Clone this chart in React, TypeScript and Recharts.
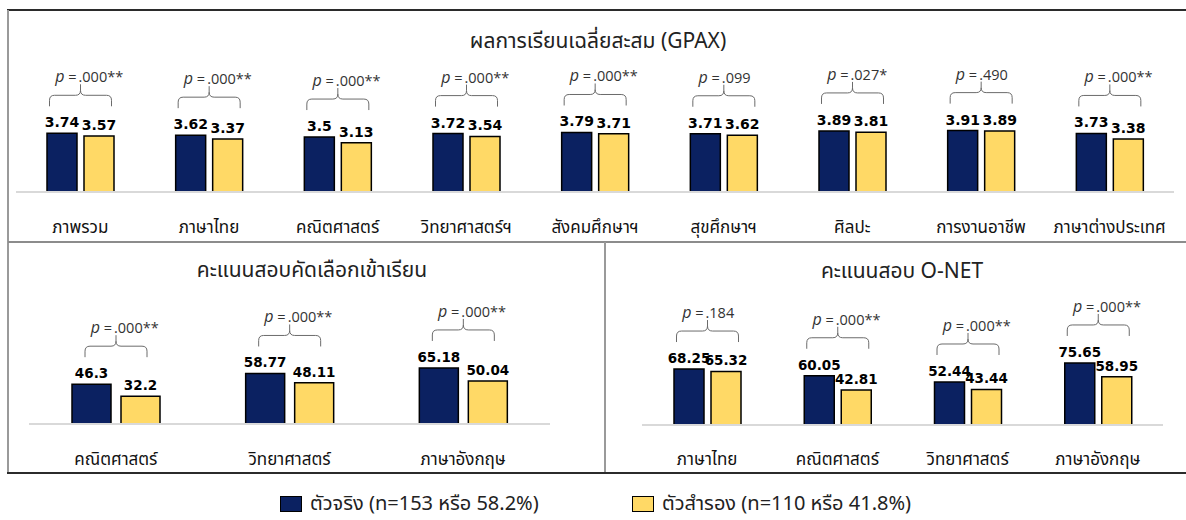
import React from "react";
import { BarChart, Bar, XAxis, YAxis, LabelList } from "recharts";

// GPAX (top panel)
const gpaxCats = ["ภาพรวม", "ภาษาไทย", "คณิตศาสตร์", "วิทยาศาสตร์ฯ", "สังคมศึกษาฯ", "สุขศึกษาฯ", "ศิลปะ", "การงานอาชีพ", "ภาษาต่างประเทศ"];
const gpaxMain = [3.74, 3.62, 3.5, 3.72, 3.79, 3.71, 3.89, 3.91, 3.73];
const gpaxAlt = [3.57, 3.37, 3.13, 3.54, 3.71, 3.62, 3.81, 3.89, 3.38];
const gpaxP = [".000**", ".000**", ".000**", ".000**", ".000**", ".099", ".027*", ".490", ".000**"];

// entrance exam (bottom left)
const entryCats = ["คณิตศาสตร์", "วิทยาศาสตร์", "ภาษาอังกฤษ"];
const entryMain = [46.3, 58.77, 65.18];
const entryAlt = [32.2, 48.11, 50.04];
const entryP = [".000**", ".000**", ".000**"];

// O-NET (bottom right)
const onetCats = ["ภาษาไทย", "คณิตศาสตร์", "วิทยาศาสตร์", "ภาษาอังกฤษ"];
const onetMain = [68.25, 60.05, 52.44, 75.65];
const onetAlt = [65.32, 42.81, 43.44, 58.95];
const onetP = [".184", ".000**", ".000**", ".000**"];

const legendItems = ["ตัวจริง (n=153 หรือ 58.2%)", "ตัวสำรอง (n=110 หรือ 41.8%)"];

const NAVY = "#0b2161";
const GOLD = "#ffd966";
const THAI = "'Noto Sans Thai', 'Noto Sans', 'DejaVu Sans', sans-serif";
const NUM = "'DejaVu Sans', sans-serif";

const box = (vb: any, p: any) => ({
  x: vb?.x ?? p.x,
  y: vb?.y ?? p.y,
  w: vb?.width ?? p.width,
  h: vb?.height ?? p.height,
});

interface PanelProps {
  cats: string[];
  main: number[];
  alt: number[];
  pvals: string[];
  width: number;
  height: number;
  margin: { top: number; right: number; bottom: number; left: number };
  yMax: number;
  barSize: number;
  barGap: number;
  labelSize: number;
  tickDy: number;
  tickSize: number;
}

function Panel({ cats, main, alt, pvals, width, height, margin, yMax, barSize, barGap, labelSize, tickDy, tickSize }: PanelProps) {
  const data = cats.map((c, i) => ({ cat: c, main: main[i], alt: alt[i], p: pvals[i] }));

  const valueLabel = (props: any) => {
    const { x, y, w } = box(props.viewBox, props);
    return (
      <text x={x + w / 2} y={y - 6} textAnchor="middle" fontFamily={NUM} fontWeight="bold" fontSize={labelSize} fill="#000">
        {String(props.value)}
      </text>
    );
  };

  // bracket + p value, placed from the navy bar geometry
  const bracket = (props: any) => {
    const { x, y, w, h } = box(props.viewBox, props);
    const d = data[props.index];
    if (!d) return null;
    const base = y + h;
    const k = h / d.main;
    const top = base - Math.max(d.main, d.alt) * k;
    const cx = x + w + barGap / 2;
    const x1 = cx - 31;
    const x2 = cx + 31;
    const tip = top - 27;
    const hy = tip - 11;
    const tt = hy - 11;
    const r = 5;
    const path = `M${x1},${tip} L${x1},${hy + r} Q${x1},${hy} ${x1 + r},${hy} L${cx - r},${hy} Q${cx},${hy} ${cx},${hy - r} L${cx},${tt}
      M${cx},${hy - r} Q${cx},${hy} ${cx + r},${hy} L${x2 - r},${hy} Q${x2},${hy} ${x2},${hy + r} L${x2},${tip}`;
    return (
      <g>
        <path d={path} fill="none" stroke="#6b6b6b" strokeWidth={1} />
        <text x={cx - 4} y={tt - 2} textAnchor="end" fontFamily="'Open Sans', sans-serif" fontSize={14.5} fill="#333">
          <tspan fontStyle="italic" fontSize={16}>p</tspan> =
        </text>
        <text x={cx - 2} y={tt - 2} textAnchor="start" fontFamily="'Open Sans', sans-serif" fontSize={14.5} fill="#333">
          {d.p}
        </text>
      </g>
    );
  };

  const tick = (props: any) => (
    <text x={props.x} y={props.y + tickDy} textAnchor="middle" fontFamily={THAI} fontSize={tickSize} fill="#111">
      {props.payload.value}
    </text>
  );

  return (
    <BarChart width={width} height={height} data={data} margin={margin} barGap={barGap}>
      <XAxis dataKey="cat" height={40} tickLine={false} tickSize={0} tickMargin={0} axisLine={{ stroke: "#d9d9d9", strokeWidth: 2 }} tick={tick} interval={0} />
      <YAxis hide domain={[0, yMax]} />
      <Bar dataKey="main" fill={NAVY} stroke="#000" strokeWidth={1.5} barSize={barSize} isAnimationActive={false}>
        <LabelList dataKey="main" content={valueLabel} />
        <LabelList dataKey="main" content={bracket} />
      </Bar>
      <Bar dataKey="alt" fill={GOLD} stroke="#000" strokeWidth={1.5} barSize={barSize} isAnimationActive={false}>
        <LabelList dataKey="alt" content={valueLabel} />
      </Bar>
    </BarChart>
  );
}

const title = (text: string, cx: number, cy: number) => (
  <div
    style={{
      position: "absolute",
      left: cx - 300,
      top: cy - 15,
      width: 600,
      height: 30,
      lineHeight: "30px",
      textAlign: "center",
      fontFamily: THAI,
      fontSize: 21,
      color: "#222",
    }}
  >
    {text}
  </div>
);

const line = (left: number, top: number, width: number, height: number, bg: string) => (
  <div style={{ position: "absolute", left, top, width, height, background: bg }} />
);

export default function App() {
  return (
    <div style={{ position: "absolute", left: 0, top: 0, width: 1186, height: 520, background: "#fff", overflow: "hidden" }}>
      {line(7, 9, 1179, 2, "#2b2b2b")}
      {line(7, 10, 2, 464, "#9a9a9a")}
      {line(8, 241, 1178, 2, "#8c8c8c")}
      {line(604, 242, 2, 231, "#9a9a9a")}
      {line(7, 472, 1179, 2, "#2b2b2b")}

      <div style={{ position: "absolute", left: 0, top: 0 }}>
        <Panel cats={gpaxCats} main={gpaxMain} alt={gpaxAlt} pvals={gpaxP} width={1186} height={240}
          margin={{ top: 113.5, right: 12, bottom: 8, left: 16 }} yMax={5} barSize={30} barGap={7}
          labelSize={14} tickDy={41} tickSize={17} />
      </div>
      <div style={{ position: "absolute", left: 0, top: 242 }}>
        <Panel cats={entryCats} main={entryMain} alt={entryAlt} pvals={entryP} width={605} height={231}
          margin={{ top: 96, right: 55, bottom: 9, left: 29 }} yMax={100} barSize={39} barGap={10}
          labelSize={13.5} tickDy={41} tickSize={17} />
      </div>
      <div style={{ position: "absolute", left: 605, top: 242 }}>
        <Panel cats={onetCats} main={onetMain} alt={onetAlt} pvals={onetP} width={581} height={231}
          margin={{ top: 101, right: 23, bottom: 8, left: 37 }} yMax={100} barSize={30} barGap={7}
          labelSize={13.5} tickDy={40} tickSize={17} />
      </div>

      {title("ผลการเรียนเฉลี่ยสะสม (GPAX)", 598, 42)}
      {title("คะแนนสอบคัดเลือกเข้าเรียน", 312, 271)}
      {title("คะแนนสอบ O-NET", 902, 272)}

      {legendItems.map((t, i) => (
        <div key={t} style={{ position: "absolute", left: i === 0 ? 280 : 632, top: 490, height: 28, display: "flex", alignItems: "center" }}>
          <div style={{ width: 20, height: 14, background: i === 0 ? NAVY : GOLD, border: "1.5px solid #000", marginRight: 8 }} />
          <span style={{ fontFamily: THAI, fontSize: 20, color: "#222", whiteSpace: "nowrap" }}>{t}</span>
        </div>
      ))}
    </div>
  );
}
